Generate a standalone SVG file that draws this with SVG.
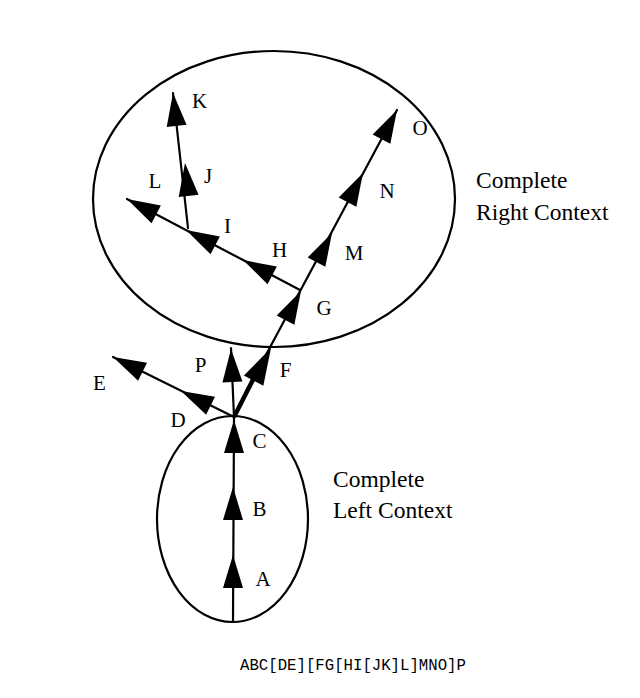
<svg xmlns="http://www.w3.org/2000/svg" xmlns:xlink="http://www.w3.org/1999/xlink" width="640" height="698" viewBox="0 0 640 698">
<style>
.ln{stroke:#000;stroke-width:2.2;fill:none;stroke-linecap:round}
.thick{stroke:#000;stroke-width:4.5;fill:none}
.ell{stroke:#000;stroke-width:2.2;fill:none}
.lb{font-family:"Liberation Serif","Times New Roman",serif;font-size:21px;fill:#000;text-anchor:middle}
.ctx{font-family:"Liberation Serif","Times New Roman",serif;font-size:23.5px;fill:#000}
.mono{font-family:"Liberation Mono","Courier New",monospace;font-size:15.7px;fill:#000}
</style>
<defs>
<path id="ah" d="M0,0 L-33,-10 L-33,10 Z" fill="#000"/>
<path id="ahF" d="M0,0 L-37,-11 L-37,11 Z" fill="#000"/>
</defs>
<rect width="640" height="698" fill="#fff"/>
<g id="right-context">
<ellipse class="ell" cx="274" cy="199" rx="181" ry="148"/>
<text class="ctx" x="476" y="188">Complete</text>
<text class="ctx" x="476" y="220">Right Context</text>
</g>
<g id="left-context">
<ellipse class="ell" cx="232.5" cy="519" rx="75.5" ry="103"/>
<text class="ctx" x="333" y="487">Complete</text>
<text class="ctx" x="333" y="518">Left Context</text>
</g>
<g id="connectors">
<line class="ln" x1="233" y1="622" x2="234" y2="417"/>
<line class="ln" x1="234" y1="417" x2="231" y2="348"/>
<line class="ln" x1="234" y1="417" x2="113" y2="357"/>
<line class="thick" x1="234" y1="417" x2="262" y2="362"/>
<line class="ln" x1="260" y1="366" x2="397" y2="110"/>
<line class="ln" x1="300" y1="290" x2="127" y2="199"/>
<line class="ln" x1="188" y1="228" x2="173" y2="93"/>
<use xlink:href="#ah" transform="translate(233,555) rotate(-90)"/>
<use xlink:href="#ah" transform="translate(233,487) rotate(-90)"/>
<use xlink:href="#ah" transform="translate(234,420) rotate(-90)"/>
<use xlink:href="#ah" transform="translate(231,349) rotate(-92.5)"/>
<use xlink:href="#ah" transform="translate(181,391) rotate(-153.6)"/>
<use xlink:href="#ah" transform="translate(113,357) rotate(-153.6)"/>
<use xlink:href="#ahF" transform="translate(271,348) rotate(-62)"/>
<use xlink:href="#ah" transform="translate(301,291) rotate(-62)"/>
<use xlink:href="#ah" transform="translate(332,233) rotate(-62)"/>
<use xlink:href="#ah" transform="translate(363,173) rotate(-62)"/>
<use xlink:href="#ah" transform="translate(397,110) rotate(-62)"/>
<use xlink:href="#ah" transform="translate(243,260) rotate(-152.2)"/>
<use xlink:href="#ah" transform="translate(186,230) rotate(-152.2)"/>
<use xlink:href="#ah" transform="translate(127,199) rotate(-152.2)"/>
<use xlink:href="#ah" transform="translate(185,163) rotate(-96.3)"/>
<use xlink:href="#ah" transform="translate(173,93) rotate(-96.3)"/>
</g>
<g id="labels">
<text class="lb" x="263" y="586">A</text>
<text class="lb" x="259.5" y="516">B</text>
<text class="lb" x="259.5" y="448">C</text>
<text class="lb" x="178" y="427">D</text>
<text class="lb" x="99.5" y="390">E</text>
<text class="lb" x="285.5" y="377">F</text>
<text class="lb" x="324" y="315">G</text>
<text class="lb" x="279.5" y="257">H</text>
<text class="lb" x="227.5" y="233">I</text>
<text class="lb" x="208" y="183">J</text>
<text class="lb" x="199.5" y="108">K</text>
<text class="lb" x="155" y="188">L</text>
<text class="lb" x="354" y="260">M</text>
<text class="lb" x="387" y="198">N</text>
<text class="lb" x="420" y="135">O</text>
<text class="lb" x="200.5" y="372">P</text>
</g>
<g id="caption">
<text class="mono" x="240" y="670">ABC[DE][FG[HI[JK]L]MNO]P</text>
</g>
</svg>
